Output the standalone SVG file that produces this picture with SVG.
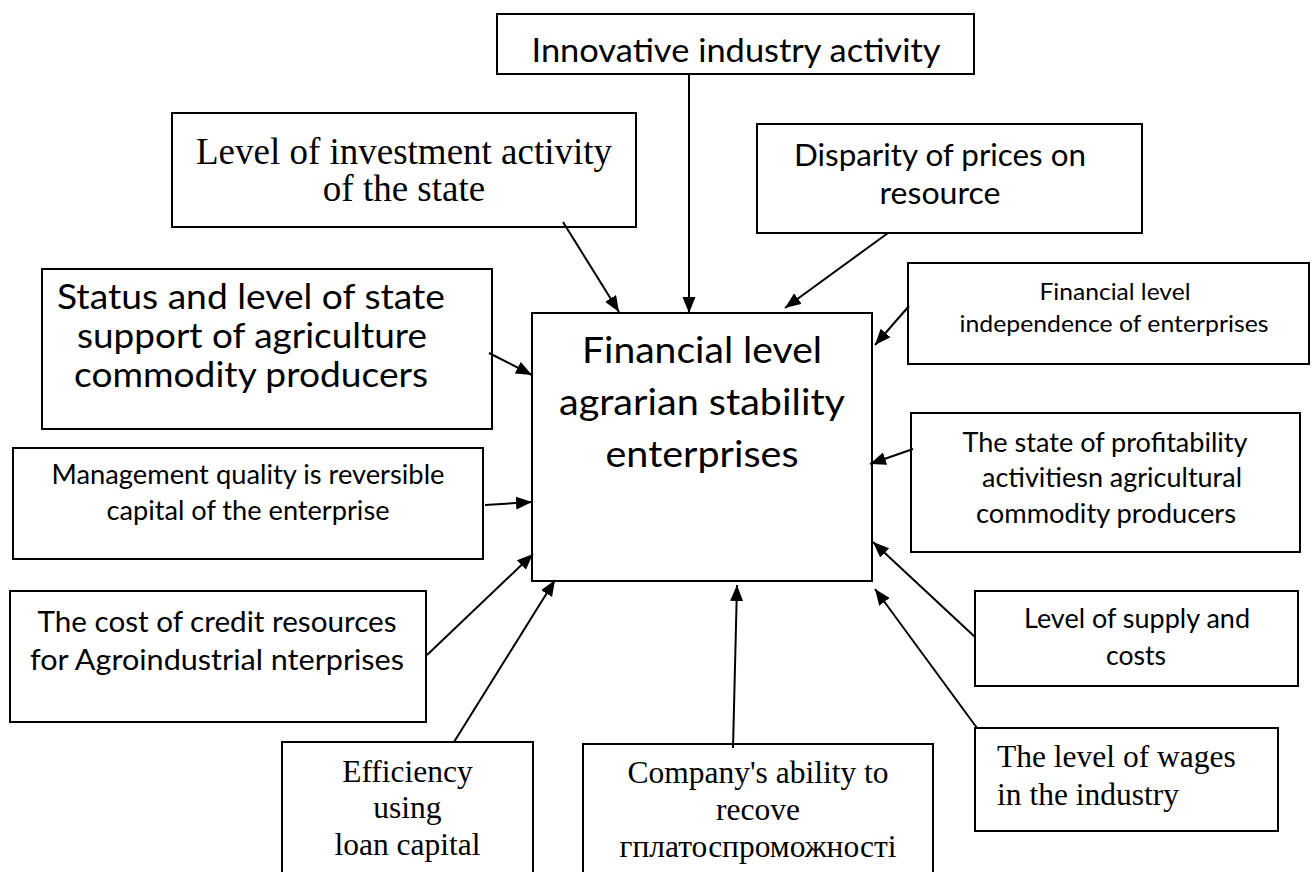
<svg xmlns="http://www.w3.org/2000/svg" width="1312" height="872" viewBox="0 0 1312 872">
<style>
.box{fill:#fff;stroke:#000;stroke-width:2}
.c{font-family:Lato,"Liberation Sans",sans-serif;fill:#000;text-anchor:middle}
.t{font-family:"Liberation Serif",serif;fill:#000;text-anchor:middle;font-size:31.5px}
.tl{font-family:"Liberation Serif",serif;fill:#000;font-size:31.5px}
.conn line{stroke:#000;stroke-width:2;marker-end:url(#ah)}
</style>
<defs>
<marker id="ah" markerUnits="userSpaceOnUse" markerWidth="18" markerHeight="14" refX="16" refY="6.5" orient="auto">
<path d="M0,0 L16,6.5 L0,13 z" fill="#000"/>
</marker>
</defs>
<rect width="1312" height="872" fill="#fff"/>

<g id="center">
<rect class="box" x="532" y="313" width="340" height="268"/>
<text class="c" font-size="37" x="702" y="363" textLength="240" lengthAdjust="spacingAndGlyphs">Financial level</text>
<text class="c" font-size="37" x="702" y="415" textLength="286" lengthAdjust="spacingAndGlyphs">agrarian stability</text>
<text class="c" font-size="37" x="702" y="467" textLength="193" lengthAdjust="spacingAndGlyphs">enterprises</text>
</g>

<g id="innovative">
<rect class="box" x="497" y="14" width="477" height="60"/>
<text class="c" font-size="33" x="736" y="62" textLength="409" lengthAdjust="spacingAndGlyphs">Innovative industry activity</text>
</g>

<g id="investment">
<rect class="box" x="172" y="113" width="464" height="114"/>
<text class="t" style="font-size:37px" x="404" y="164">Level of investment activity</text>
<text class="t" style="font-size:37px" x="404" y="201">of the state</text>
</g>

<g id="disparity">
<rect class="box" x="757" y="124" width="385" height="109"/>
<text class="c" font-size="31" x="940" y="166" textLength="292" lengthAdjust="spacingAndGlyphs">Disparity of prices on</text>
<text class="c" font-size="31" x="940" y="204" textLength="121" lengthAdjust="spacingAndGlyphs">resource</text>
</g>

<g id="independence">
<rect class="box" x="908" y="263" width="401" height="101"/>
<text class="c" font-size="24" x="1115" y="300" textLength="151" lengthAdjust="spacingAndGlyphs">Financial level</text>
<text class="c" font-size="24" x="1114" y="332" textLength="309" lengthAdjust="spacingAndGlyphs">independence of enterprises</text>
</g>

<g id="status">
<rect class="box" x="42" y="269" width="450" height="160"/>
<text class="c" font-size="34" x="251" y="309" textLength="388" lengthAdjust="spacingAndGlyphs">Status and level of state</text>
<text class="c" font-size="34" x="252" y="348" textLength="350" lengthAdjust="spacingAndGlyphs">support of agriculture</text>
<text class="c" font-size="34" x="251" y="387" textLength="354" lengthAdjust="spacingAndGlyphs">commodity producers</text>
</g>

<g id="management">
<rect class="box" x="13" y="448" width="470" height="111"/>
<text class="c" font-size="26" x="248" y="484" textLength="393" lengthAdjust="spacingAndGlyphs">Management quality is reversible</text>
<text class="c" font-size="26" x="248" y="520" textLength="283" lengthAdjust="spacingAndGlyphs">capital of the enterprise</text>
</g>

<g id="profitability">
<rect class="box" x="911" y="413" width="389" height="139"/>
<text class="c" font-size="26" x="1105" y="452" textLength="285" lengthAdjust="spacingAndGlyphs">The state of profitability</text>
<text class="c" font-size="26" x="1112" y="487" textLength="260" lengthAdjust="spacingAndGlyphs">activitiesn agricultural</text>
<text class="c" font-size="26" x="1106" y="523" textLength="260" lengthAdjust="spacingAndGlyphs">commodity producers</text>
</g>

<g id="credit">
<rect class="box" x="10" y="591" width="416" height="131"/>
<text class="c" font-size="29" x="217" y="632" textLength="359" lengthAdjust="spacingAndGlyphs">The cost of credit resources</text>
<text class="c" font-size="29" x="217" y="670" textLength="374" lengthAdjust="spacingAndGlyphs">for Agroindustrial  nterprises</text>
</g>

<g id="supply">
<rect class="box" x="975" y="591" width="323" height="95"/>
<text class="c" font-size="26" x="1137" y="628" textLength="226" lengthAdjust="spacingAndGlyphs">Level of supply and</text>
<text class="c" font-size="26" x="1136" y="665" textLength="60" lengthAdjust="spacingAndGlyphs">costs</text>
</g>

<g id="wages">
<rect class="box" x="975" y="728" width="303" height="103"/>
<text class="tl" x="997" y="767">The level of wages</text>
<text class="tl" x="997" y="805">in the industry</text>
</g>

<g id="efficiency">
<rect class="box" x="282" y="742" width="251" height="140"/>
<text class="t" x="407.5" y="782">Efficiency</text>
<text class="t" x="407.5" y="818">using</text>
<text class="t" x="407.5" y="855">loan capital</text>
</g>

<g id="ability">
<rect class="box" x="583" y="744" width="350" height="140"/>
<text class="t" x="758" y="783">Company's ability to</text>
<text class="t" x="758" y="820">recove</text>
<text class="t" x="758" y="857">гплатоспроможності</text>
</g>

<g id="connectors" class="conn">
<line x1="689" y1="74" x2="689" y2="313"/>
<line x1="563" y1="222" x2="619" y2="312"/>
<line x1="888" y1="233" x2="785" y2="308"/>
<line x1="909" y1="306" x2="875" y2="345"/>
<line x1="489" y1="353" x2="532" y2="375"/>
<line x1="485" y1="505" x2="532" y2="502"/>
<line x1="427" y1="655" x2="533" y2="554"/>
<line x1="454" y1="742" x2="555" y2="580"/>
<line x1="733" y1="748" x2="737" y2="585"/>
<line x1="975" y1="637" x2="873" y2="542"/>
<line x1="977" y1="728" x2="875" y2="589"/>
<line x1="913" y1="449" x2="870" y2="464"/>
</g>
</svg>
